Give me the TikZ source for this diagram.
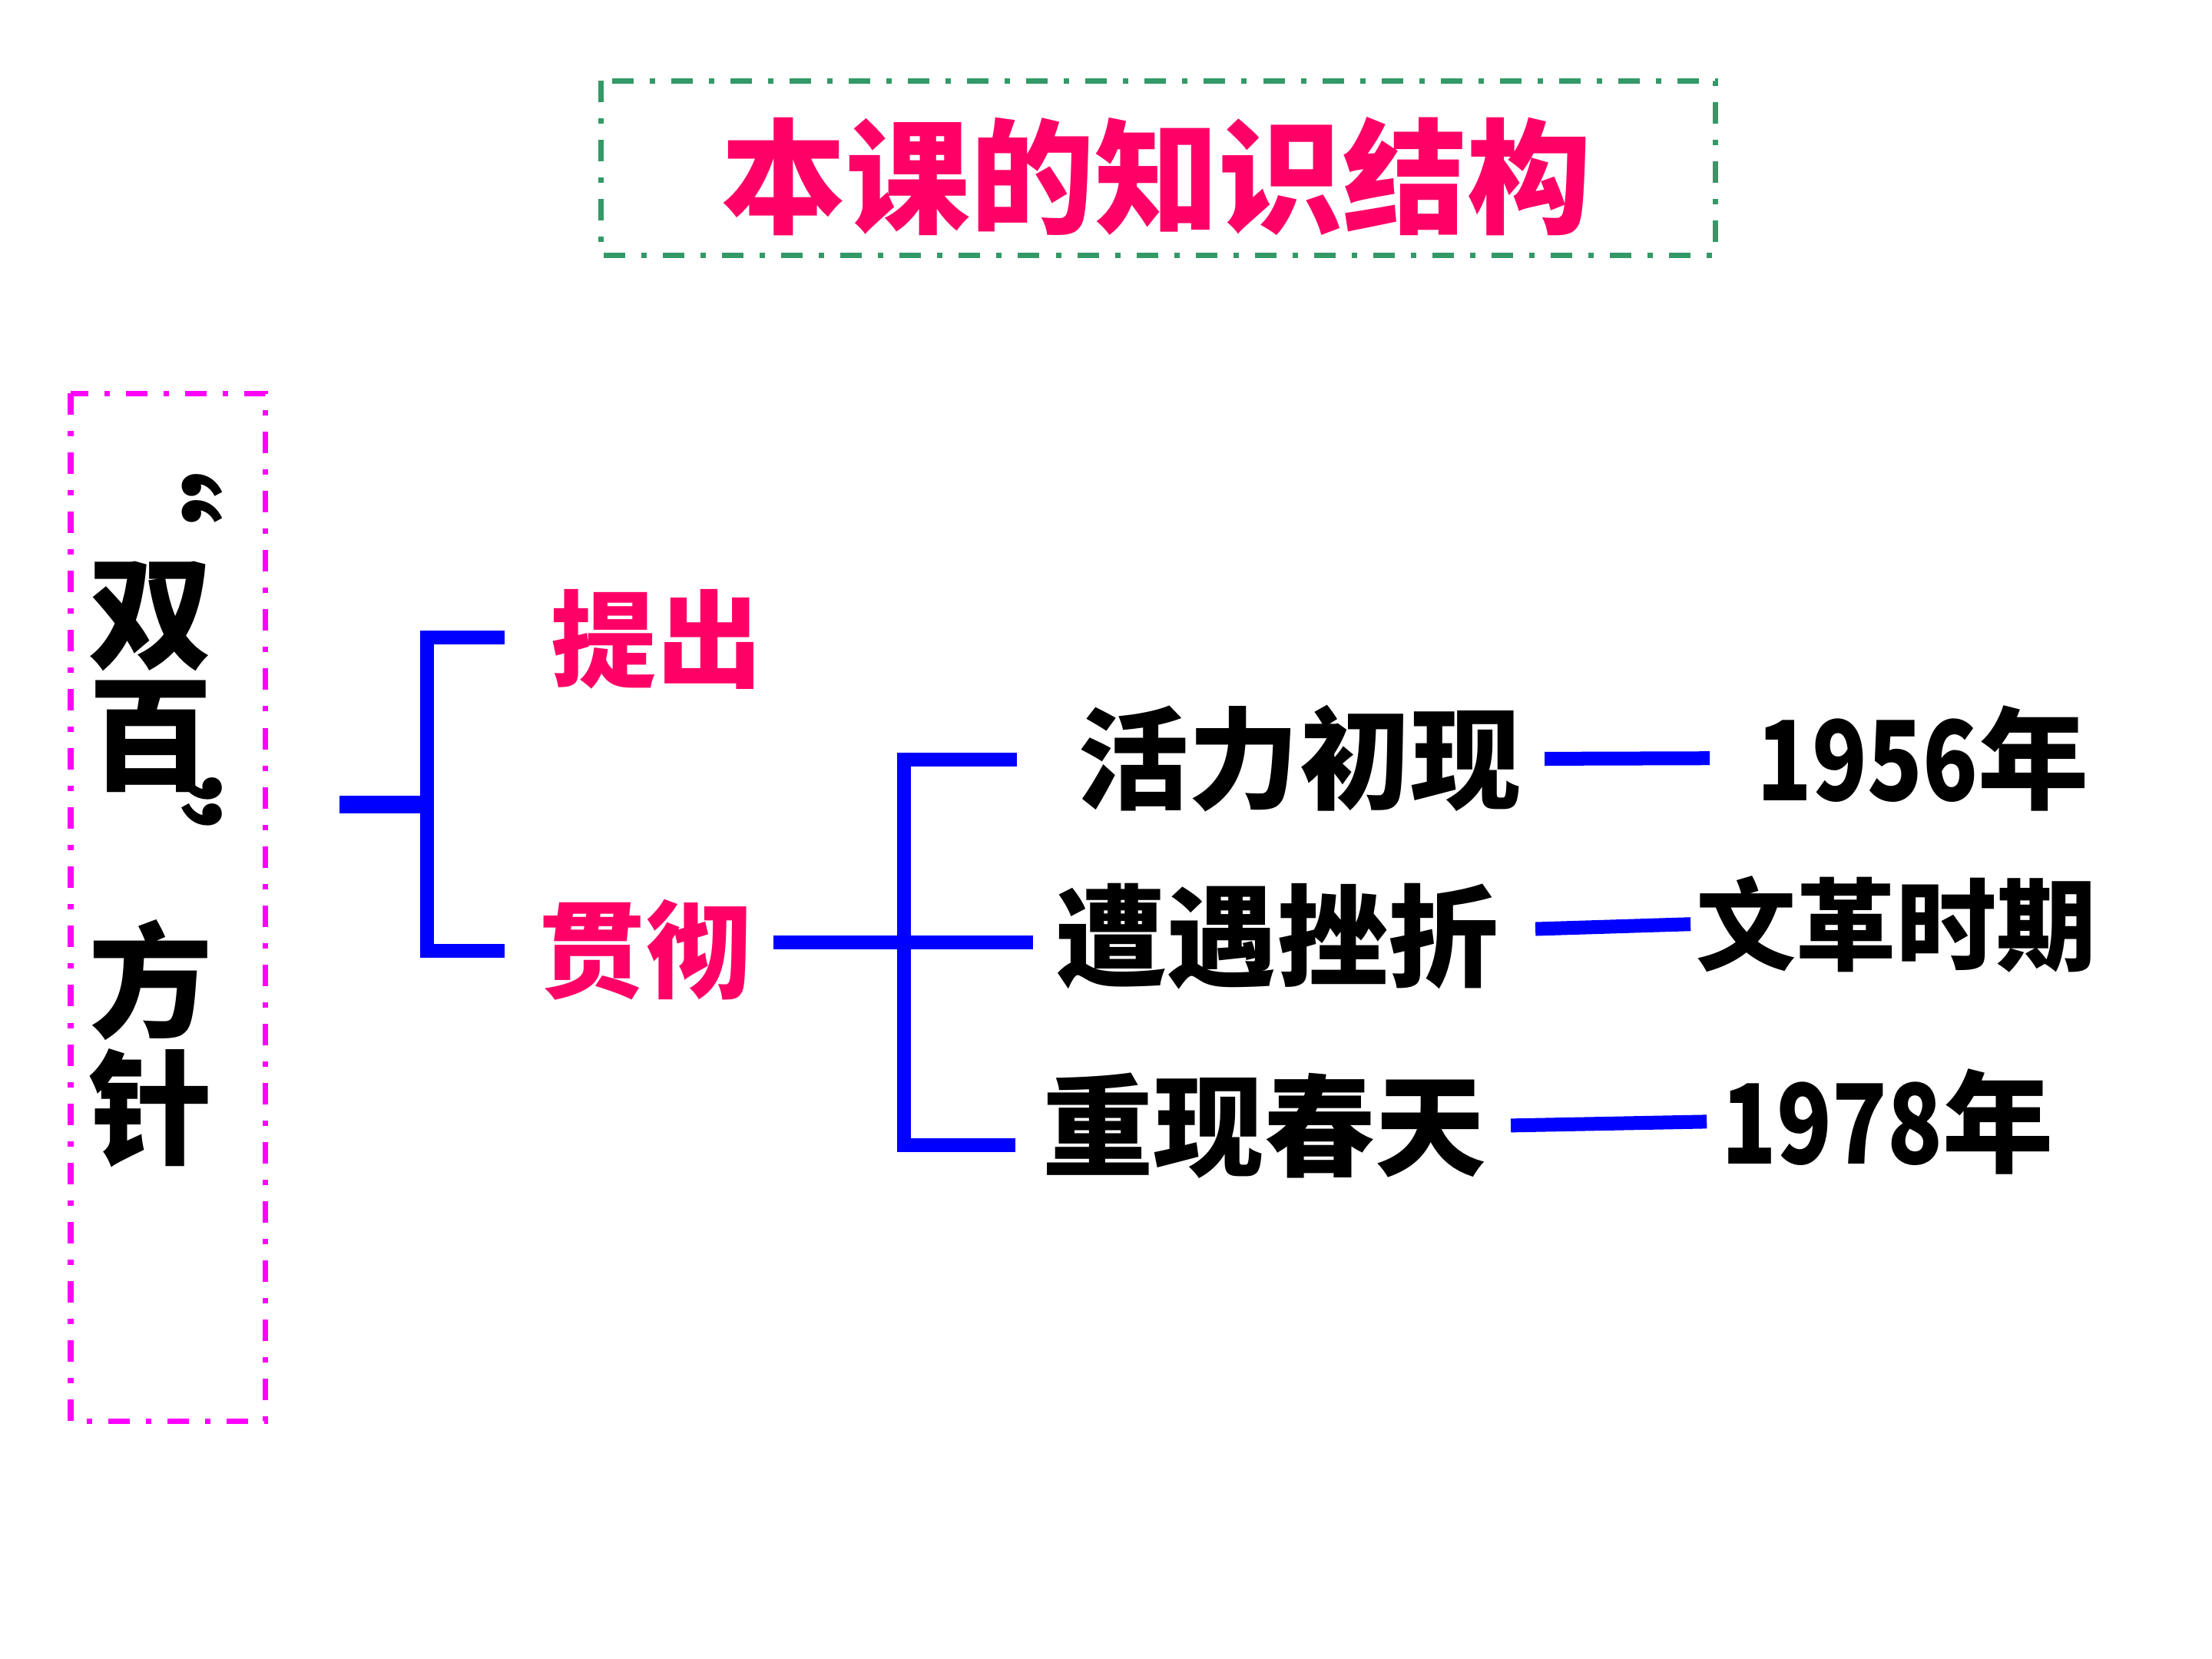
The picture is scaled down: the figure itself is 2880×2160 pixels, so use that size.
\documentclass[tikz,border=0pt]{standalone}
\usepackage{fontspec}
\newfontfamily\cjk{Noto Sans CJK SC}
\definecolor{titlepink}{RGB}{255,0,102}
\definecolor{boxgreen}{RGB}{51,153,102}
\definecolor{boxmagenta}{RGB}{255,0,255}
\definecolor{linkblue}{RGB}{0,0,255}
\newcommand{\yearnum}[1]{\scalebox{0.82}[1]{#1}}

\begin{document}
\begin{tikzpicture}[x=0.01cm, y=-0.01cm,
  every node/.style={inner sep=0pt},
  dashdot box/.style={line width=0.07cm, dash pattern=on 0.28cm off 0.21cm on 0.07cm off 0.21cm},
  link/.style={linkblue, line width=0.18cm},
  pinktext/.style={text=titlepink, font=\cjk\bfseries\fontsize{39pt}{39pt}\selectfont},
  blacktext/.style={font=\cjk\bfseries\fontsize{41pt}{41pt}\selectfont},
  vchar/.style={font=\cjk\bfseries\fontsize{46pt}{46pt}\selectfont}]

\useasboundingbox (0,0) rectangle (2880,2160);

% Title
\draw[boxgreen, dashdot box] (782,105) rectangle (2233,332);
\node[text=titlepink, font=\cjk\bfseries\fontsize{46pt}{46pt}\selectfont] (title) at (1506,230) {本课的知识结构};

% Left box, vertical text
\draw[boxmagenta, dashdot box] (92,512) rectangle (345,1850);
\node[vchar, rotate=-90] (qopen) at (220,602) {“};
\node[vchar] (shuang) at (196,802) {双};
\node[vchar] (bai) at (196,959) {百};
\node[vchar, rotate=-90] (qclose) at (220,1090) {”};
\node[vchar] (fang) at (196,1276) {方};
\node[vchar] (zhen) at (196,1443) {针};

% First level
\node[pinktext] (tichu) at (855,832) {提出};
\node[pinktext] (guanche) at (840,1237) {贯彻};

\coordinate (root) at (442,1047);
\coordinate (b1mid) at (556,1047);
\coordinate (b1top) at (556,830);
\coordinate (b1bot) at (556,1238);
\coordinate (b1topend) at (657,830);
\coordinate (b1botend) at (657,1238);
\draw[link, line width=0.23cm] (root) -- (b1mid);
\draw[link] (b1topend) -- (b1top) -- (b1bot) -- (b1botend);

% Second level
\node[blacktext] (huoli) at (1692,988) {活力初现};
\node[blacktext] (zaoyu) at (1663,1219) {遭遇挫折};
\node[blacktext] (chongxian) at (1646,1466) {重现春天};

\coordinate (b2top) at (1177,989);
\coordinate (b2mid) at (1177,1227);
\coordinate (b2bot) at (1177,1491);
\coordinate (b2topend) at (1324,989);
\coordinate (b2midend) at (1345,1227);
\coordinate (b2botend) at (1322,1491);
\draw[link, shorten <=0.29cm] (guanche.east |- b2mid) -- (b2midend);
\draw[link] (b2topend) -- (b2top) -- (b2bot) -- (b2botend);

% Periods
\node[blacktext] (y1956) at (2504,987) {\yearnum{1956}年};
\node[blacktext, font=\cjk\bfseries\fontsize{37pt}{37pt}\selectfont] (wenge) at (2469,1203) {文革时期};
\node[blacktext] (y1978) at (2458,1460) {\yearnum{1978}年};

\draw[link, shorten <=0.30cm, shorten >=0.61cm] (huoli.east) -- (y1956.west);
\draw[link, shorten <=0.47cm, shorten >=0.07cm] ([yshift=0.08cm]zaoyu.east) -- (wenge.west);
\draw[link, shorten <=0.32cm, shorten >=0.19cm] (chongxian.east) -- (y1978.west);

\end{tikzpicture}
\end{document}
